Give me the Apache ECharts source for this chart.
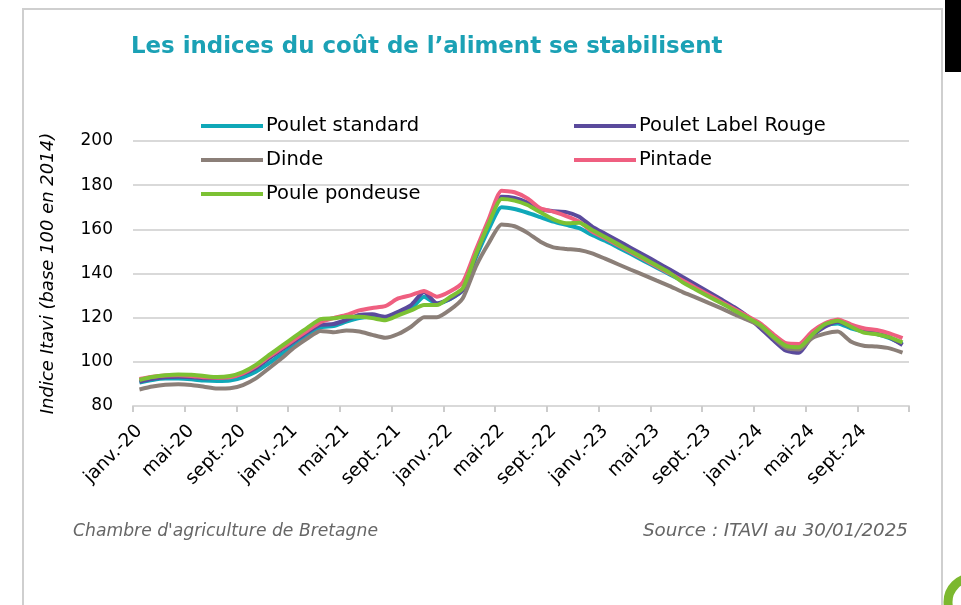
<!DOCTYPE html>
<html>
<head>
<meta charset="utf-8">
<script src="https://cdn.jsdelivr.net/npm/echarts@6/dist/echarts.min.js"></script>
<style>
html,body{margin:0;padding:0;background:#fff;}
#chart{width:961px;height:605px;}
</style>
</head>
<body>
<div id="chart"></div>
<script>
const categories = [
 'janv.-20','févr.-20','mars-20','avr.-20','mai-20','juin-20','juil.-20','août-20','sept.-20','oct.-20','nov.-20','déc.-20',
 'janv.-21','févr.-21','mars-21','avr.-21','mai-21','juin-21','juil.-21','août-21','sept.-21','oct.-21','nov.-21','déc.-21',
 'janv.-22','févr.-22','mars-22','avr.-22','mai-22','juin-22','juil.-22','août-22','sept.-22','oct.-22','nov.-22','déc.-22',
 'janv.-23','févr.-23','mars-23','avr.-23','mai-23','juin-23','juil.-23','août-23','sept.-23','oct.-23','nov.-23','déc.-23',
 'janv.-24','févr.-24','mars-24','avr.-24','mai-24','juin-24','juil.-24','août-24','sept.-24','oct.-24','nov.-24','déc.-24'
];
const yTicks = [80, 100, 120, 140, 160, 180, 200];

const pouletStandard = [
 90.6,91.8,92.4,92.4,92.1,91.5,91.3,91.5,93.0,95.5,99.3,103.5,
 107.6,111.7,115.6,116.2,118.2,119.8,120.5,119.8,121.5,124.0,129.5,126.2,
 128.3,132.5,147.0,160.0,170.0,169.2,167.5,165.5,163.5,162.0,160.5,157.4,
 154.8,151.8,148.8,145.7,142.6,139.6,136.5,133.4,130.2,127.0,123.8,120.5,
 116.3,110.5,105.8,105.3,111.5,116.4,117.4,115.2,113.7,112.6,110.7,108.1
];
const pouletLabelRouge = [
 91.0,92.3,93.0,93.2,93.0,92.6,92.8,93.2,94.5,97.2,101.5,105.5,
 109.5,113.5,116.7,117.1,119.0,121.2,121.5,120.4,122.7,125.7,131.6,126.5,
 128.5,132.5,148.0,163.0,174.8,174.2,172.1,169.0,168.2,167.8,165.7,161.2,
 158.0,154.8,151.6,148.4,145.1,141.8,138.4,135.0,131.6,128.2,124.7,120.6,
 115.3,109.9,105.0,104.1,111.7,115.9,118.2,115.9,114.1,112.9,111.1,107.6
];
const dinde = [
 87.5,88.8,89.6,89.8,89.5,88.7,87.9,88.0,89.5,92.5,97.0,101.6,
 106.6,110.7,114.0,113.4,114.2,113.7,112.2,110.9,112.6,115.9,120.2,120.2,
 123.5,128.8,143.0,153.7,162.2,161.4,158.4,154.4,151.8,151.1,150.6,149.1,
 146.7,144.2,141.7,139.3,136.8,134.3,131.6,129.2,126.7,124.2,121.5,119.0,
 116.2,111.0,106.3,105.6,110.7,112.8,113.7,109.2,107.3,106.9,106.1,104.2
];
const pintade = [
 92.2,93.2,93.8,93.9,93.6,93.0,92.8,93.0,94.8,98.0,102.2,106.2,
 110.2,114.2,118.0,119.8,121.2,123.3,124.4,125.2,128.7,130.2,132.1,129.5,
 131.8,136.0,150.5,164.5,177.5,176.8,174.0,169.5,168.0,166.0,163.5,159.0,
 156.0,152.8,149.6,146.4,143.2,140.0,136.8,133.6,130.4,127.1,123.9,120.7,
 117.4,112.6,108.4,108.1,113.7,117.4,119.2,117.0,115.2,114.4,112.9,110.7
];
const poulePondeuse = [
 91.8,93.1,93.9,94.3,94.2,93.6,93.1,93.6,95.4,98.6,103.0,107.2,
 111.4,115.5,119.3,119.7,120.4,120.4,119.8,118.8,121.0,123.3,125.7,125.7,
 129.3,133.3,148.5,162.5,173.7,173.0,171.0,167.7,164.5,162.7,163.0,159.7,
 156.5,153.3,150.1,146.9,143.6,140.3,136.0,132.8,129.6,126.5,123.3,120.1,
 116.7,111.4,107.2,106.6,112.2,117.0,118.6,115.9,113.2,112.5,111.1,108.8
];

const seriesNames = ['Poulet standard','Poulet Label Rouge','Dinde','Pintade','Poule pondeuse'];
const seriesData = [pouletStandard, pouletLabelRouge, dinde, pintade, poulePondeuse];
const colors = ['#0fa8b8','#5a4a9c','#8b7f78','#ef5f80','#7cc133'];

const FONT = 'DejaVu Sans';
const chart = echarts.init(document.getElementById('chart'), null, {renderer:'canvas'});

const series = seriesNames.map((n,i)=>({
  name:n, type:'line', data:seriesData[i], symbol:'none', smooth:0.2,
  lineStyle:{width:4, color:colors[i]}, itemStyle:{color:colors[i]},
  emphasis:{disabled:true}, animation:false
}));

const legendCommon = {
  orient:'vertical', icon:'rect', itemWidth:62, itemHeight:4, itemGap:14,
  textStyle:{fontFamily:FONT, fontSize:19.5, color:'#000', padding:[0,0,0,-2]},
  selectedMode:false
};

chart.setOption({
  animation:false,
  backgroundColor:'#fff',
  color:colors,
  title:{
    text:'Les indices du coût de l’aliment se stabilisent',
    left:126, top:31,
    textStyle:{fontFamily:FONT, fontSize:22.9, fontWeight:'bold', color:'#1ba1b5'}
  },
  legend:[
    Object.assign({}, legendCommon, {left:196, top:111, data:['Poulet standard','Dinde','Poule pondeuse']}),
    Object.assign({}, legendCommon, {left:569, top:111, data:['Poulet Label Rouge','Pintade']})
  ],
  grid:{left:133, right:52, top:141, bottom:199},
  xAxis:{
    type:'category', data:categories, boundaryGap:true,
    axisLine:{lineStyle:{color:'#d9d9d9', width:2}},
    axisTick:{show:true, interval:3, length:6, lineStyle:{color:'#cccccc', width:2}},
    axisLabel:{interval:3, rotate:45, margin:22, fontFamily:FONT, fontSize:18.5, color:'#000'},
    splitLine:{show:false}
  },
  yAxis:{
    type:'value', min:yTicks[0], max:yTicks[yTicks.length-1], interval:20,
    name:'Indice Itavi (base 100 en 2014)', nameLocation:'middle', nameGap:76,
    nameTextStyle:{fontFamily:FONT, fontSize:18, fontStyle:'italic', color:'#000'},
    axisLine:{show:false}, axisTick:{show:false},
    axisLabel:{margin:20, fontFamily:FONT, fontSize:17, color:'#000'},
    splitLine:{lineStyle:{color:'#d9d9d9', width:2}}
  },
  series:series,
  graphic:[
    {type:'rect', shape:{x:23, y:9, width:919, height:620}, style:{fill:'none', stroke:'#cfcfcf', lineWidth:2}, z:-1},
    {type:'rect', shape:{x:945, y:0, width:16, height:72}, style:{fill:'#000'}},
    {type:'circle', shape:{cx:972, cy:602, r:24}, style:{fill:'none', stroke:'#7cb82f', lineWidth:9}},
    {type:'text', left:73, top:523, style:{text:"Chambre d'agriculture de Bretagne", font:'italic 17.2px "DejaVu Sans"', fill:'#666'}},
    {type:'text', right:53, top:522, style:{text:'Source : ITAVI au 30/01/2025', font:'italic 18.3px "DejaVu Sans"', fill:'#666', textAlign:'right'}}
  ]
});
</script>
</body>
</html>
